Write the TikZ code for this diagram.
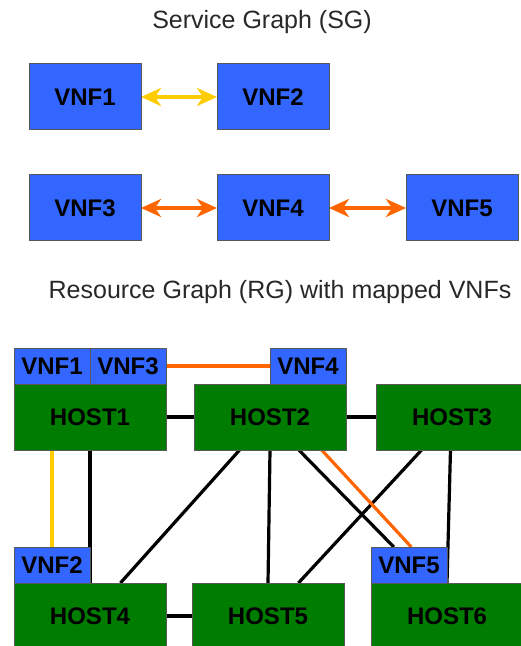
\documentclass[tikz,border=0pt]{standalone}
\usepackage{fontspec}
\setmainfont{Liberation Sans}
\usepackage{tikz}
\usetikzlibrary{arrows.meta}
\usetikzlibrary{calc}
\pgfdeclarelayer{nodelayer}
\pgfdeclarelayer{edgelayer}
\pgfsetlayers{edgelayer,nodelayer,main}
\definecolor{vnfblue}{RGB}{51,102,255}
\definecolor{hostgreen}{RGB}{0,125,0}
\definecolor{linkorange}{RGB}{255,102,0}
\definecolor{linkyellow}{RGB}{255,204,0}
\definecolor{titlegray}{RGB}{40,40,40}
\tikzstyle{none}=[inner sep=0pt]
\tikzstyle{title}=[inner sep=0pt, text=titlegray, font=\fontsize{12.5}{15}\selectfont]
\tikzset{vnf/.style={draw=black!65, line width=0.5pt, fill=vnfblue, inner sep=0pt, outer sep=0pt,
minimum width=56pt, minimum height=33pt, font=\bfseries\fontsize{12}{14}\selectfont}}
\tikzset{vnfsmall/.style={vnf, minimum width=38pt, minimum height=18pt}}
\tikzset{host/.style={vnf, fill=hostgreen, minimum width=76pt}}
\tikzset{link/.style={line width=1.6pt}}
\tikzset{sglink/.style={line width=2pt, {Stealth[length=10pt,width=9pt,inset=3pt]}-{Stealth[length=10pt,width=9pt,inset=3pt]}}}

\begin{document}
\begin{tikzpicture}[x=0.5pt, y=-0.5pt]
        \useasboundingbox (0,0) rectangle (520,646);
        \begin{pgfonlayer}{nodelayer}
            % service graph
            \node [style=title] (sg) at (262, 22) {Service Graph (SG)};
            \node [style=vnf] (vnf1) at (85, 97) {VNF1};
            \node [style=vnf] (vnf2) at (273, 97) {VNF2};
            \node [style=vnf] (vnf3) at (85, 208) {VNF3};
            \node [style=vnf] (vnf4) at (273, 208) {VNF4};
            \node [style=vnf] (vnf5) at (462, 208) {VNF5};
            % resource graph
            \node [style=title] (rg) at (280, 292) {Resource Graph (RG) with mapped VNFs};
            \node [style=host] (host1) at (90, 417) {HOST1};
            \node [style=host] (host2) at (270, 417) {HOST2};
            \node [style=host] (host3) at (452, 417) {HOST3};
            \node [style=host] (host4) at (90, 616) {HOST4};
            \node [style=host] (host5) at (268, 616) {HOST5};
            \node [style=host] (host6) at (447, 616) {HOST6};
            \node [style=vnfsmall] (rvnf1) at (52, 366) {VNF1};
            \node [style=vnfsmall] (rvnf3) at (128, 366) {VNF3};
            \node [style=vnfsmall] (rvnf4) at (308, 366) {VNF4};
            \node [style=vnfsmall] (rvnf2) at (52, 565) {VNF2};
            \node [style=vnfsmall] (rvnf5) at (409, 565) {VNF5};
        \end{pgfonlayer}
        \begin{pgfonlayer}{edgelayer}
            \draw [style=sglink, linkyellow] (vnf1) to (vnf2);
            \draw [style=sglink, linkorange] (vnf3) to (vnf4);
            \draw [style=sglink, linkorange] (vnf4) to (vnf5);
            \draw [style=link] (host1) to (host2);
            \draw [style=link] (host2) to (host3);
            \draw [style=link] (host4) to (host5);
            \draw [style=link] (host1.south) to (host1.south |- host4.north);
            \draw [style=link] ($(host2.south west)!0.3!(host2.south east)$) to ($(host4.north west)!0.7!(host4.north east)$);
            \draw [style=link] (host2.south) to (host5.north);
            \draw [style=link] ($(host2.south west)!0.69!(host2.south east)$) to ($(rvnf5.north west)!0.3!(rvnf5.north east)$);
            \draw [style=link] ($(host3.south west)!0.3!(host3.south east)$) to ($(host5.north west)!0.7!(host5.north east)$);
            \draw [style=link] ($(host3.south west)!0.49!(host3.south east)$) to (host6.north);
            \draw [style=link, linkorange] (rvnf3) to (rvnf4);
            \draw [style=link, linkorange] ($(host2.south west)!0.84!(host2.south east)$) to ($(rvnf5.north west)!0.53!(rvnf5.north east)$);
            \draw [style=link, linkyellow] (rvnf2.north) to (rvnf2.north |- host1.south);
        \end{pgfonlayer}
    \end{tikzpicture}
\end{document}
